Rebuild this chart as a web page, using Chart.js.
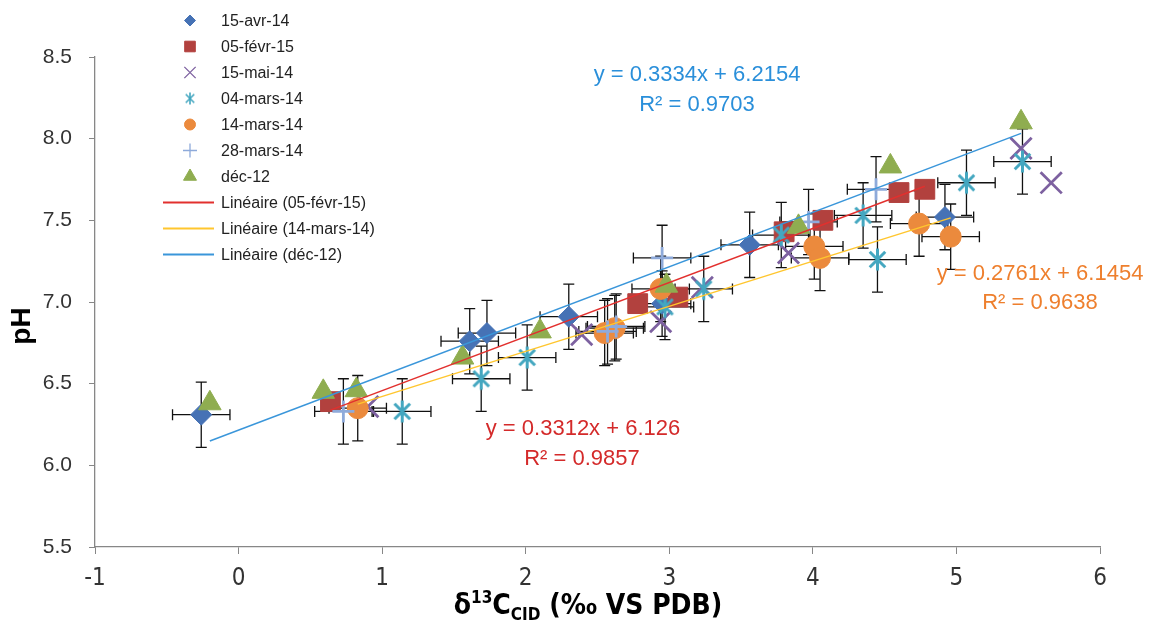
<!DOCTYPE html>
<html>
<head>
<meta charset="utf-8">
<title>pH vs d13C</title>
<script src="https://cdn.jsdelivr.net/npm/chart.js@4/dist/chart.umd.min.js"></script>
<style>
  html, body { margin: 0; padding: 0; background: #fff; }
</style>
</head>
<body>
<canvas id="chart" width="1157" height="626"></canvas>
<script>
// Series (x = d13C, y = pH)
const seriesNames = ["15-avr-14", "05-févr-15", "15-mai-14", "04-mars-14", "14-mars-14", "28-mars-14", "déc-12"];

const avr14X = [-0.26, 1.61, 1.73, 2.30, 2.95, 3.56, 4.92];
const avr14Y = [6.31, 6.76, 6.81, 6.91, 6.99, 7.35, 7.52];
const fev15X = [0.64, 2.78, 3.06, 3.80, 4.07, 4.60, 4.78];
const fev15Y = [6.39, 6.99, 7.03, 7.43, 7.50, 7.67, 7.69];
const mai14X = [0.90, 2.39, 2.94, 3.23, 3.83, 5.45, 5.66];
const mai14Y = [6.36, 6.80, 6.88, 7.09, 7.30, 7.94, 7.73];
const mars04X = [1.14, 1.69, 2.01, 2.97, 3.24, 3.78, 4.35, 4.45, 5.07, 5.46];
const mars04Y = [6.33, 6.53, 6.66, 6.97, 7.08, 7.41, 7.53, 7.26, 7.73, 7.86];
const mars14X = [0.83, 2.55, 2.62, 2.94, 4.01, 4.05, 4.74, 4.96];
const mars14Y = [6.35, 6.81, 6.84, 7.08, 7.34, 7.27, 7.48, 7.40];
const mars28X = [0.73, 2.57, 2.63, 2.95, 3.97, 4.44];
const mars28Y = [6.33, 6.82, 6.85, 7.27, 7.49, 7.69];
const dec12X = [-0.20, 0.59, 0.82, 1.56, 2.10, 2.98, 3.90, 4.54, 5.45];
const dec12Y = [6.38, 6.45, 6.46, 6.66, 6.82, 7.10, 7.46, 7.83, 8.10];

// error bars (same size on both axes)
const errX = 0.2;
const errY = 0.2;

// linear trendlines: 05-févr-15, 14-mars-14, déc-12
const trendNames = ["Linéaire (05-févr-15)", "Linéaire (14-mars-14)", "Linéaire (déc-12)"];
const trendSlope = [0.3312, 0.2761, 0.3334];
const trendIntercept = [6.126, 6.1454, 6.2154];
const trendR2 = ["0.9857", "0.9638", "0.9703"];
const trendEq = ["y = 0.3312x + 6.126", "y = 0.2761x + 6.1454", "y = 0.3334x + 6.2154"];

const xTicksMin = -1, xTicksMax = 6;
const yTicksMin = 5.5, yTicksMax = 8.5, yStep = 0.5;

const toPts = (xs, ys) => xs.map((x, i) => ({ x: x, y: ys[i] }));

// asterisk marker (vertical + X) like Excel's
function asterisk(r, color, lw) {
    const c = document.createElement("canvas");
    const s = Math.ceil(2 * r + lw + 2);
    c.width = s; c.height = s;
    const g = c.getContext("2d");
    const m = s / 2, d = r * Math.SQRT1_2;
    g.strokeStyle = color;
    g.lineWidth = lw;
    g.lineCap = "butt";
    g.beginPath();
    g.moveTo(m, m - r); g.lineTo(m, m + r);
    g.moveTo(m - d, m - d); g.lineTo(m + d, m + d);
    g.moveTo(m - d, m + d); g.lineTo(m + d, m - d);
    g.stroke();
    return c;
}

const colBlue = "#4672B5", colRed = "#B2413E", colPurple = "#7D61A0", colTeal = "#44A7C0",
      colOrange = "#EB8A3D", colLight = "#8EAADA", colGreen = "#8FAD50";
const trendColors = ["#E2302E", "#FFC62E", "#3A96DA"];
const eqColors = ["#D42A2A", "#EE7F2D", "#2A8FDA"];

const starBig = asterisk(11, colTeal, 3);
const starSmall = asterisk(6, colTeal, 1.6);

const markers = [
    { style: "rectRot", r: 10.5, lr: 5.5, color: colBlue, bw: 1 },
    { style: "rect", r: 14, lr: 7.5, color: colRed, bw: 1 },
    { style: "crossRot", r: 15, lr: 8, color: colPurple, bw: 2.8 },
    { style: starBig, legend: starSmall, color: colTeal, bw: 0 },
    { style: "circle", r: 10.5, lr: 5.5, color: colOrange, bw: 1 },
    { style: "cross", r: 11, lr: 7, color: colLight, bw: 2.8 },
    { style: "triangle", r: 13, lr: 7.5, color: colGreen, bw: 1 }
];

const seriesData = [
    toPts(avr14X, avr14Y), toPts(fev15X, fev15Y), toPts(mai14X, mai14Y), toPts(mars04X, mars04Y),
    toPts(mars14X, mars14Y), toPts(mars28X, mars28Y), toPts(dec12X, dec12Y)
];
const errorSeries = [0, 3, 4, 5];
const trendSource = [fev15X, mars14X, dec12X];

const datasets = seriesData.map((pts, i) => ({
    label: seriesNames[i],
    data: pts,
    pointStyle: markers[i].style,
    pointRadius: markers[i].r || 10,
    backgroundColor: markers[i].color,
    borderColor: markers[i].color,
    pointBorderWidth: markers[i].bw,
    order: 20 - i
}));

trendSlope.forEach((m, i) => {
    const xs = trendSource[i];
    const x0 = Math.min(...xs), x1 = Math.max(...xs);
    datasets.push({
        label: trendNames[i],
        data: [{ x: x0, y: m * x0 + trendIntercept[i] }, { x: x1, y: m * x1 + trendIntercept[i] }],
        showLine: true,
        borderColor: trendColors[i],
        borderWidth: 1.5,
        pointRadius: 0,
        order: 0
    });
});

const FONT = "'Liberation Sans', Arial, sans-serif";
const NARROW = "'Liberation Sans Narrow', 'DejaVu Sans Condensed', sans-serif";

const overlay = {
    id: "overlay",
    beforeDatasetsDraw(chart) {
        const ctx = chart.ctx, xs = chart.scales.x, ys = chart.scales.y;
        ctx.save();
        ctx.strokeStyle = "#111";
        ctx.lineWidth = 1.3;
        const cap = 5.5;
        errorSeries.forEach(si => {
            seriesData[si].forEach(p => {
                const cx = xs.getPixelForValue(p.x), cy = ys.getPixelForValue(p.y);
                const l = xs.getPixelForValue(p.x - errX), r = xs.getPixelForValue(p.x + errX);
                const t = ys.getPixelForValue(p.y + errY), b = ys.getPixelForValue(p.y - errY);
                ctx.beginPath();
                ctx.moveTo(l, cy); ctx.lineTo(r, cy);
                ctx.moveTo(l, cy - cap); ctx.lineTo(l, cy + cap);
                ctx.moveTo(r, cy - cap); ctx.lineTo(r, cy + cap);
                ctx.moveTo(cx, t); ctx.lineTo(cx, b);
                ctx.moveTo(cx - cap, t); ctx.lineTo(cx + cap, t);
                ctx.moveTo(cx - cap, b); ctx.lineTo(cx + cap, b);
                ctx.stroke();
            });
        });
        ctx.restore();
    },
    afterDraw(chart) {
        const ctx = chart.ctx;
        ctx.save();
        // legend
        const rowY = 20.5, rowH = 26;
        ctx.font = "16px " + FONT;
        ctx.textBaseline = "middle";
        ctx.textAlign = "left";
        seriesNames.forEach((name, i) => {
            const y = rowY + i * rowH;
            const mk = markers[i];
            ctx.fillStyle = mk.color;
            ctx.strokeStyle = mk.color;
            ctx.lineWidth = mk.bw > 1 ? 1.3 : 1;
            Chart.helpers.drawPoint(ctx, {
                pointStyle: mk.legend || mk.style, radius: mk.lr || 6, rotation: 0, borderWidth: 1
            }, 190, y);
            ctx.fillStyle = "#222";
            ctx.fillText(name, 221, y + 1);
        });
        trendNames.forEach((name, i) => {
            const y = rowY + (seriesNames.length + i) * rowH;
            ctx.strokeStyle = trendColors[i];
            ctx.lineWidth = 2;
            ctx.beginPath(); ctx.moveTo(163, y); ctx.lineTo(214, y); ctx.stroke();
            ctx.fillStyle = "#222";
            ctx.fillText(name, 221, y + 1);
        });

        // trendline equations
        const eqPos = [[583, 429, 582, 459], [1040, 274, 1040, 303], [697, 75, 697, 105]];
        ctx.font = "22px " + FONT;
        ctx.textAlign = "center";
        trendEq.forEach((t, i) => {
            ctx.fillStyle = eqColors[i];
            ctx.fillText(t, eqPos[i][0], eqPos[i][1]);
            ctx.fillText("R\u00B2 = " + trendR2[i], eqPos[i][2], eqPos[i][3]);
        });

        // y title
        ctx.save();
        ctx.translate(22, 326);
        ctx.rotate(-Math.PI / 2);
        ctx.font = "bold 28px " + FONT;
        ctx.fillStyle = "#000";
        ctx.textAlign = "center";
        ctx.textBaseline = "middle";
        ctx.fillText("pH", 0, 0);
        ctx.restore();

        // x title with super/subscripts
        const big = "bold 28px " + NARROW, small = "bold 17px " + NARROW;
        const parts = [["\u03B4", big, 0], ["13", small, -11], ["C", big, 0], ["CID", small, 6], [" (\u2030 VS PDB)", big, 0]];
        let total = 0;
        parts.forEach(p => { ctx.font = p[1]; total += ctx.measureText(p[0]).width; });
        let x = 588 - total / 2;
        ctx.textAlign = "left";
        ctx.textBaseline = "alphabetic";
        ctx.fillStyle = "#000";
        parts.forEach(p => {
            ctx.font = p[1];
            ctx.fillText(p[0], x, 614 + p[2]);
            x += ctx.measureText(p[0]).width;
        });
        ctx.restore();
    }
};

new Chart(document.getElementById("chart").getContext("2d"), {
    type: "scatter",
    data: { datasets: datasets },
    options: {
        responsive: false,
        animation: false,
        events: [],
        layout: { padding: { top: 57, right: 57, left: 0, bottom: 0 } },
        plugins: { legend: { display: false }, tooltip: { enabled: false } },
        scales: {
            x: {
                type: "linear",
                min: xTicksMin, max: xTicksMax,
                afterFit: s => { s.height = 79; },
                grid: { drawOnChartArea: false, color: "#878787", tickLength: 7 },
                border: { color: "#878787", width: 1.3 },
                ticks: { stepSize: 1, padding: 10, color: "#333", font: { family: NARROW, size: 24 } }
            },
            y: {
                type: "linear",
                min: yTicksMin, max: yTicksMax,
                afterFit: s => { s.width = 95; },
                grid: { drawOnChartArea: false, color: "#878787", tickLength: 6 },
                border: { color: "#878787", width: 1.3 },
                ticks: {
                    stepSize: yStep, padding: 17, color: "#333",
                    font: { family: FONT, size: 21 },
                    callback: v => v.toFixed(1)
                }
            }
        }
    },
    plugins: [overlay]
});
</script>
</body>
</html>
